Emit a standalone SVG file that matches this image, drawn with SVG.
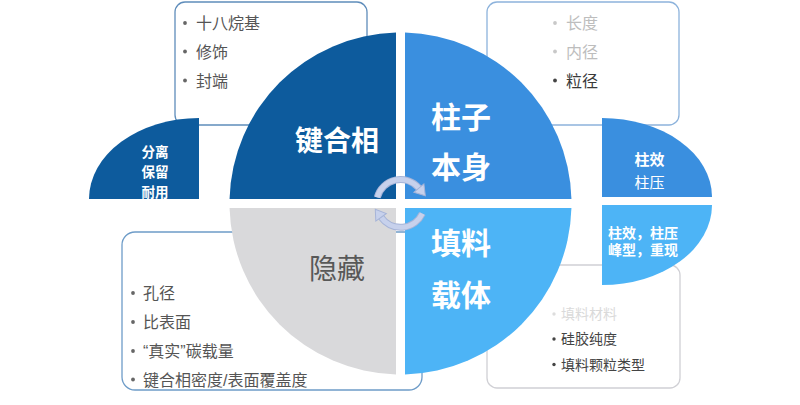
<svg xmlns="http://www.w3.org/2000/svg" width="800" height="405" viewBox="0 0 800 405">
<defs>
<style>
text{font-family:"Liberation Sans","Noto Sans CJK SC",sans-serif;}
.box{fill:#ffffff;stroke-width:1.3;}
.li{font-size:16px;fill:#555555;}
.li14{font-size:14px;fill:#444444;}
.big{font-size:28px;font-weight:bold;fill:#ffffff;}
.big30{font-size:30px;font-weight:bold;fill:#ffffff;}
.sm{font-size:13.5px;font-weight:bold;fill:#ffffff;text-anchor:middle;}
.dot{fill:#666666;}
.arc{fill:none;stroke:#C7D1EC;stroke-width:5;}
.arcline{fill:none;stroke:#A6B4D8;stroke-width:7;}
</style>
<marker id="ah" markerUnits="userSpaceOnUse" markerWidth="16" markerHeight="16" refX="1" refY="8" orient="auto" viewBox="0 0 16 16">
<path d="M1,1.5 L11,8 L1,14.5 Z" fill="#C7D1EC" stroke="#A6B4D8" stroke-width="1"/>
</marker>
</defs>
<rect width="800" height="405" fill="#ffffff"/>

<g id="box-tl">
<rect class="box" x="175" y="2" width="192" height="123" rx="10" stroke="#5F8DBB"/>
<circle class="dot" cx="185" cy="23" r="1.9"/>
<circle class="dot" cx="185" cy="51.5" r="1.9"/>
<circle class="dot" cx="185" cy="80.5" r="1.9"/>
<text class="li" x="196" y="28.5">十八烷基</text>
<text class="li" x="196" y="57.5">修饰</text>
<text class="li" x="196" y="86.5">封端</text>
</g>

<g id="box-tr">
<rect class="box" x="487" y="2" width="192" height="123" rx="10" stroke="#8DB3DC"/>
<circle cx="555" cy="23" r="1.9" fill="#C8C8C8"/>
<circle cx="555" cy="51.5" r="1.9" fill="#C8C8C8"/>
<circle cx="555" cy="80.5" r="1.9" fill="#444444"/>
<text class="li" x="566" y="28.5" style="fill:#BDBDBD">长度</text>
<text class="li" x="566" y="57.5" style="fill:#BDBDBD">内径</text>
<text class="li" x="566" y="86.5" style="fill:#3A3A3A">粒径</text>
</g>

<g id="box-bl">
<rect class="box" x="122" y="232" width="300" height="158" rx="13" stroke="#6E9CC8"/>
<circle class="dot" cx="133" cy="293" r="1.9"/>
<circle class="dot" cx="133" cy="322" r="1.9"/>
<circle class="dot" cx="133" cy="351" r="1.9"/>
<circle class="dot" cx="133" cy="379.5" r="1.9"/>
<text class="li" x="143" y="299">孔径</text>
<text class="li" x="143" y="328">比表面</text>
<text class="li" x="143" y="357">“真实”碳载量</text>
<text class="li" x="143" y="385.5">键合相密度/表面覆盖度</text>
</g>

<g id="box-br">
<rect class="box" x="487" y="265" width="193" height="123" rx="10" stroke="#D0D0D5"/>
<circle cx="554" cy="314" r="1.7" fill="#DDDDDD"/>
<circle cx="554" cy="339" r="1.7" fill="#444444"/>
<circle cx="554" cy="364.5" r="1.7" fill="#444444"/>
<text class="li14" x="561" y="319.3" style="fill:#DADADA">填料材料</text>
<text class="li14" x="561" y="344.3">硅胶纯度</text>
<text class="li14" x="561" y="369.8">填料颗粒类型</text>
</g>

<g id="shape-left">
<path d="M199,118 V199 H89 A110,81 0 0 1 199,118 Z" fill="#0D5B9D"/>
<text class="sm" x="155" y="157">分离</text>
<text class="sm" x="155" y="177">保留</text>
<text class="sm" x="155" y="196.5">耐用</text>
</g>

<g id="shape-right-upper">
<path d="M602,118 V197 H712 A110,79 0 0 0 602,118 Z" fill="#3A8FDF"/>
<text x="649.5" y="165" font-size="15" font-weight="bold" fill="#ffffff" text-anchor="middle">柱效</text>
<text x="649.5" y="187.5" font-size="15" fill="#ffffff" text-anchor="middle">柱压</text>
</g>

<g id="shape-right-lower">
<path d="M602,205 H712 A110,80 0 0 1 602,285 Z" fill="#4DB4F6"/>
<text x="643" y="237.8" font-size="14" font-weight="bold" fill="#ffffff" text-anchor="middle">柱效，柱压</text>
<text x="643" y="254.8" font-size="14" font-weight="bold" fill="#ffffff" text-anchor="middle">峰型，重现</text>
</g>

<g id="quad-bonded">
<path d="M396,199 H229.56 A171,171 0 0 1 396,32.56 Z" fill="#0D5B9D"/>
<text class="big" x="337" y="150.5" text-anchor="middle">键合相</text>
</g>

<g id="quad-column">
<path d="M405,199 V32.56 A171,171 0 0 1 571.44,199 Z" fill="#3A8FDF"/>
<text class="big30" x="431" y="127.5">柱子</text>
<text class="big30" x="431" y="177.5">本身</text>
</g>

<g id="quad-packing">
<path d="M405,208 H571.44 A171,171 0 0 1 405,374.44 Z" fill="#4DB4F6"/>
<text class="big30" x="431" y="253.5">填料</text>
<text class="big30" x="431" y="305.5">载体</text>
</g>

<g id="quad-hidden">
<path d="M396,208 V374.44 A171,171 0 0 1 229.56,208 Z" fill="#D9D9DB"/>
<text x="337" y="279" font-size="28" fill="#585858" text-anchor="middle">隐藏</text>
</g>

<g id="connectors">
<path class="arcline" d="M377.3,197.3 A24,24 0 0 1 418.9,188.1"/>
<path class="arc" d="M377.3,197.3 A24,24 0 0 1 418.9,188.1" marker-end="url(#ah)"/>
<path class="arcline" d="M422.3,213.6 A24,24 0 0 1 381.1,217.3"/>
<path class="arc" d="M422.3,213.6 A24,24 0 0 1 381.1,217.3" marker-end="url(#ah)"/>
</g>
</svg>
